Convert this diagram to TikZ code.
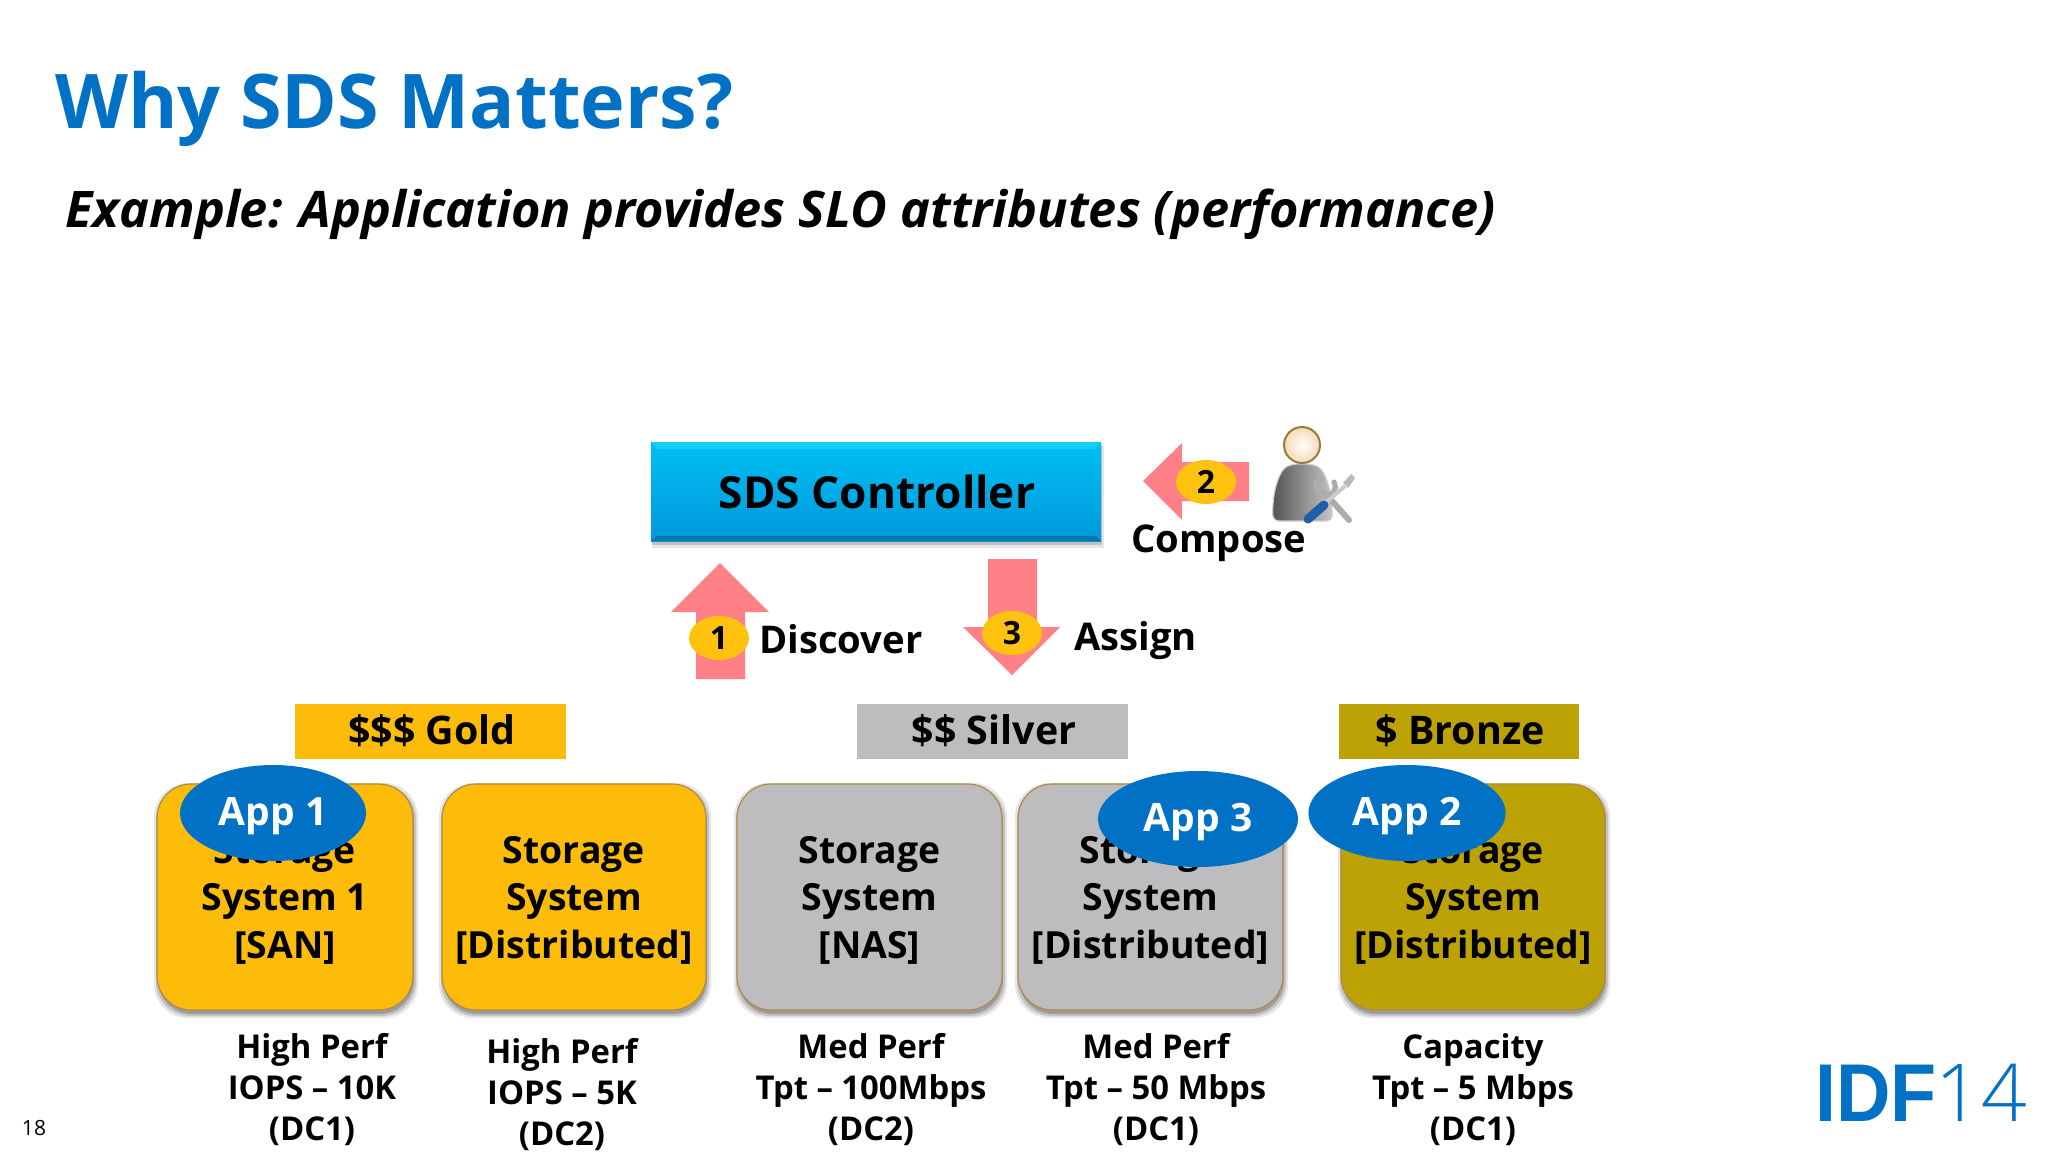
\documentclass[tikz,border=0pt]{standalone}
\usepackage{graphicx}
\usepackage{fontspec}
\setmainfont{Open Sans}
\newfontfamily\thinfont{Open Sans Light}
\newfontfamily\logofont{Liberation Sans}
\usetikzlibrary{shadings,shapes.geometric}
\definecolor{idfblue}{HTML}{0071C5}
\definecolor{gold}{HTML}{FDBC0A}
\definecolor{silver}{HTML}{BDBDBF}
\definecolor{bronze}{HTML}{BDA205}
\definecolor{pinkarrow}{HTML}{FF8086}
\definecolor{badge}{HTML}{FFC20E}
\definecolor{ctrla}{HTML}{00BFF3}
\definecolor{ctrlb}{HTML}{0098DA}
\definecolor{ctrltop}{HTML}{14CFF5}
\definecolor{ctrlbot}{HTML}{0078B0}
\definecolor{skin}{HTML}{F3D9B8}
\definecolor{skinrim}{HTML}{9A7B3C}
\definecolor{driver}{HTML}{1F5FA8}
\definecolor{rim}{HTML}{B08A45}
\newcommand{\softbox}[5]{%
  \foreach \g/\o in {4/.10,2/.14,0/.2}{
    \fill[black,opacity=\o,rounded corners=#5] (#1-\g+1,#2+3-\g) rectangle (#3+\g+1,#4+4+\g);
  }}
\newcommand{\apptext}[1]{\rule{0pt}{17.5pt}#1}
\tikzset{
  x=.5pt,y=-.5pt,
  lbl/.style={font=\bfseries\fontsize{18.7}{23.7}\selectfont,align=center,text=black,inner sep=0},
  step label/.style={font=\bfseries\fontsize{19.1}{23}\selectfont,text=black,inner sep=0},
  sub/.style={font=\bfseries\fontsize{16.4}{20.5}\selectfont,align=center,text=black,inner sep=0},
  tier/.style={font=\bfseries\fontsize{19.7}{22}\selectfont,inner sep=0,text=black,minimum width=135.5pt,minimum height=27.5pt},
  app/.style={ellipse,fill=idfblue,text=white,font=\bfseries\fontsize{19.5}{22}\selectfont,inner sep=0},
  num/.style={ellipse,fill=badge,text=black,font=\bfseries\fontsize{16}{18}\selectfont,inner sep=0,minimum width=30pt,minimum height=22pt},
  storagebox/.style={rounded corners=17pt,draw=rim,line width=.6pt,fill=#1,inner sep=0},
  arrowfill/.style={fill=pinkarrow},
}
\newcommand{\stor}[7]{% name x1 y1 x2 y2 colour text
  \softbox{#2}{#3}{#4}{#5}{17pt}
  \path[storagebox=#6] (#2,#3) rectangle (#4,#5);
  \node[lbl] (#1) at ({(#2+#4)/2},900) {#7};
}
\begin{document}
\begin{tikzpicture}
\useasboundingbox (0,0) rectangle (2048,1152);
\fill[white] (0,0) rectangle (2048,1152);
\node[anchor=base west,inner sep=0,text=idfblue,font=\bfseries\fontsize{37.7}{40}\selectfont] (title) at (55,128) {Why SDS Matters?};
\node[anchor=base west,inner sep=0,font=\bfseries\itshape\fontsize{25.2}{28}\selectfont] (subtitle) at (65,227) {Example: Application provides SLO attributes (performance)};
% controller
\fill[black,opacity=.10] (652,446) rectangle (1104,548);
\fill[black,opacity=.15] (652,446) rectangle (1102,545);
\shade[top color=ctrla,bottom color=ctrlb] (651,442) rectangle (1101,541);
\fill[ctrltop] (651,442) -- (1101,442) -- (1094,449) -- (658,449) -- cycle;
\fill[ctrlbot] (651,541) -- (1101,541) -- (1096,536) -- (656,536) -- cycle;
\node[font=\bfseries\fontsize{22.1}{26}\selectfont,inner sep=0] (ctrl) at (877,492) {SDS Controller};
% arrows
\fill[arrowfill] (720,563) -- (769,612) -- (745,612) -- (745,679) -- (696,679) -- (696,612) -- (671,612) -- cycle;
\fill[arrowfill] (1143,481) -- (1182,443) -- (1182,462) -- (1249,462) -- (1249,501) -- (1182,501) -- (1182,520) -- cycle;
\fill[arrowfill] (988,559) -- (1037,559) -- (1037,627) -- (1060,627) -- (1012,675) -- (963,627) -- (988,627) -- cycle;
\node[num] (n1) at (719,638) {1};
\node[num] (n2) at (1206,482) {2};
\node[num] (n3) at (1012,633) {3};
\node[step label,anchor=west] (discover) at (759,639) {Discover};
\node[step label,anchor=west] (assign) at (1074,641) {Assign};
\node[step label,anchor=west] (compose) at (1131,543) {Compose};
% person
\shade[left color=gray!65!black,right color=gray!45,draw=gray!40,line width=.6pt,rounded corners=3pt] (1273,521) .. controls (1272,490) and (1280,470) .. (1292,464) -- (1312,464) .. controls (1325,470) and (1332,490) .. (1332,521) -- cycle;
\shade[inner color=white,outer color=skin,draw=skinrim,line width=1pt] (1302,445) ellipse (18 and 18);
% wrench
\draw[gray!65,line width=3pt,line cap=round] (1324,492) -- (1349,520);
\draw[gray!65,line width=2.6pt,line cap=round] (1322,478) .. controls (1312,482) and (1314,494) .. (1324,494) .. controls (1332,496) and (1338,490) .. (1334,482);
% screwdriver
\draw[gray!40,line width=2pt] (1322,506) -- (1345,486);
\fill[gray!55] (1343,483) -- (1351,474) -- (1355,478) -- (1348,488) -- cycle;
\draw[driver,line width=4.5pt,line cap=round] (1308,519) -- (1324,505);
% tiers
\node[tier,fill=gold] (gold) at (430,731) {\hspace*{2pt}\$\$\$ Gold};
\node[tier,fill=silver] (silver) at (992,731) {\hspace*{2pt}\$\$ Silver};
\node[tier,fill=bronze,minimum width=120pt] (bronze) at (1459,731) {\hspace*{1pt}\$ Bronze};
% storage
\stor{s1}{157}{784}{413}{1010}{gold}{Storage\\System 1\\{[SAN]}}
\stor{s2}{442}{784}{706}{1010}{gold}{Storage\\System\\{[Distributed]}}
\stor{s3}{737}{784}{1002}{1010}{silver}{Storage\\System\\{[NAS]}}
\stor{s4}{1018}{784}{1283}{1010}{silver}{Storage\\System\\{[Distributed]}}
\stor{s5}{1341}{784}{1605}{1010}{bronze}{Storage\\System\\{[Distributed]}}
% apps
\node[app,minimum width=93pt,minimum height=48pt] (a1) at (273,813) {\apptext{App 1}};
\node[app,minimum width=100pt,minimum height=48pt] (a3) at (1198,819) {\apptext{App 3}};
\node[app,minimum width=98.6pt,minimum height=48pt] (a2) at (1407,813) {\apptext{App 2}};
% captions
\node[sub] (c1) at (312,1090) {High Perf\\IOPS – 10K\\(DC1)};
\node[sub] (c2) at (562,1095) {High Perf\\IOPS – 5K\\(DC2)};
\node[sub] (c3) at (871,1090) {Med Perf\\Tpt – 100Mbps\\(DC2)};
\node[sub] (c4) at (1156,1090) {Med Perf\\Tpt – 50 Mbps\\(DC1)};
\node[sub] (c5) at (1473,1090) {Capacity\\Tpt – 5 Mbps\\(DC1)};
% footer
\node[font=\fontsize{10.5}{12}\selectfont,inner sep=0] (page) at (34,1128) {18};
\node[anchor=base west,inner sep=0,text=idfblue,font=\logofont\bfseries\fontsize{41}{44}\selectfont] (logoa) at (1815,1121) {\scalebox{.92}[1]{IDF}};
\node[anchor=base west,inner sep=0,text=idfblue,font=\thinfont\fontsize{40}{44}\selectfont] (logob) at (1935,1121) {14};
\end{tikzpicture}
\end{document}
